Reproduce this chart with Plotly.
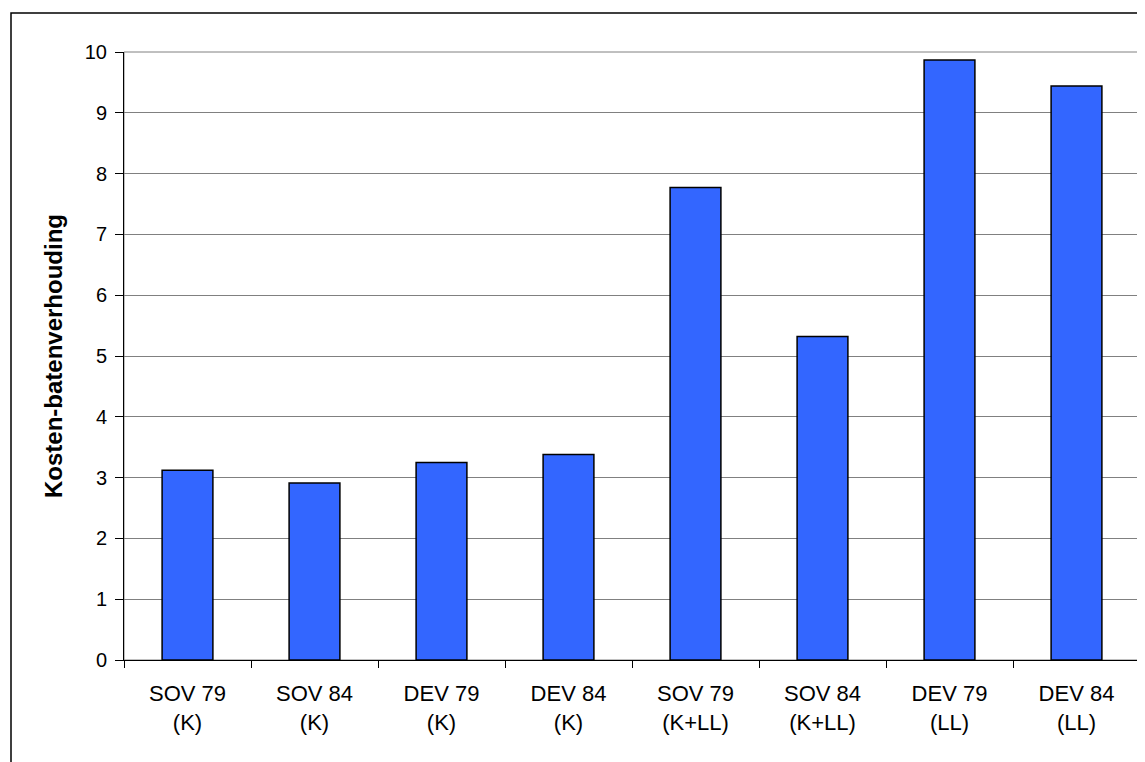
import plotly.graph_objects as go

categories = ["SOV 79<br>(K)", "SOV 84<br>(K)", "DEV 79<br>(K)", "DEV 84<br>(K)",
              "SOV 79<br>(K+LL)", "SOV 84<br>(K+LL)", "DEV 79<br>(LL)", "DEV 84<br>(LL)"]
values = [3.12, 2.91, 3.25, 3.38, 7.77, 5.32, 9.87, 9.44]
y_ticks = [0, 1, 2, 3, 4, 5, 6, 7, 8, 9, 10]
y_title = "Kosten-batenverhouding"

FONT = "Liberation Sans, Arial, sans-serif"

fig = go.Figure()
fig.add_trace(go.Bar(
    x=categories, y=values,
    marker=dict(color="#3366FF", line=dict(color="#000000", width=1.5)),
    hoverinfo="skip",
))

# page has an 8px body margin; figure sized to compensate
W, H = 1137, 754
L, R, T, B = 116, 5, 44, 102
pw, ph = W - L - R, H - T - B

fig.update_layout(
    width=W, height=H,
    margin=dict(l=L, r=R, t=T, b=B, pad=0),
    paper_bgcolor="white", plot_bgcolor="white",
    bargap=0.6,
    showlegend=False,
    font=dict(family=FONT, size=20, color="black"),
    xaxis=dict(
        type="category",
        tickson="boundaries",
        ticks="outside", ticklen=7, tickcolor="black", tickwidth=1,
        ticklabelstandoff=14,
        showline=True, linecolor="black", linewidth=1,
        showgrid=False, zeroline=False,
        tickfont=dict(family=FONT, size=22, color="black"),
    ),
    yaxis=dict(
        range=[0, 10],
        tickvals=y_ticks,
        ticks="outside", ticklen=8, tickcolor="black", tickwidth=1,
        ticklabelstandoff=4,
        showline=True, linecolor="black", linewidth=1,
        showgrid=True, gridcolor="#808080", gridwidth=1,
        zeroline=False,
        tickfont=dict(family=FONT, size=20, color="black"),
        title=dict(text="<b>" + y_title + "</b>", font=dict(family=FONT, size=24, color="black"), standoff=15),
    ),
    shapes=[
        dict(type="rect", xref="paper", yref="paper", x0=0, x1=1, y0=0, y1=1,
             line=dict(color="#808080", width=1), layer="below"),
        dict(type="rect", xref="paper", yref="paper",
             x0=(3 - L) / pw, x1=(W + 20 - L) / pw,
             y0=-(B + 20) / ph, y1=(H - B - 5) / ph,
             line=dict(color="black", width=1.5)),
    ],
)

fig.write_html("out.html")
